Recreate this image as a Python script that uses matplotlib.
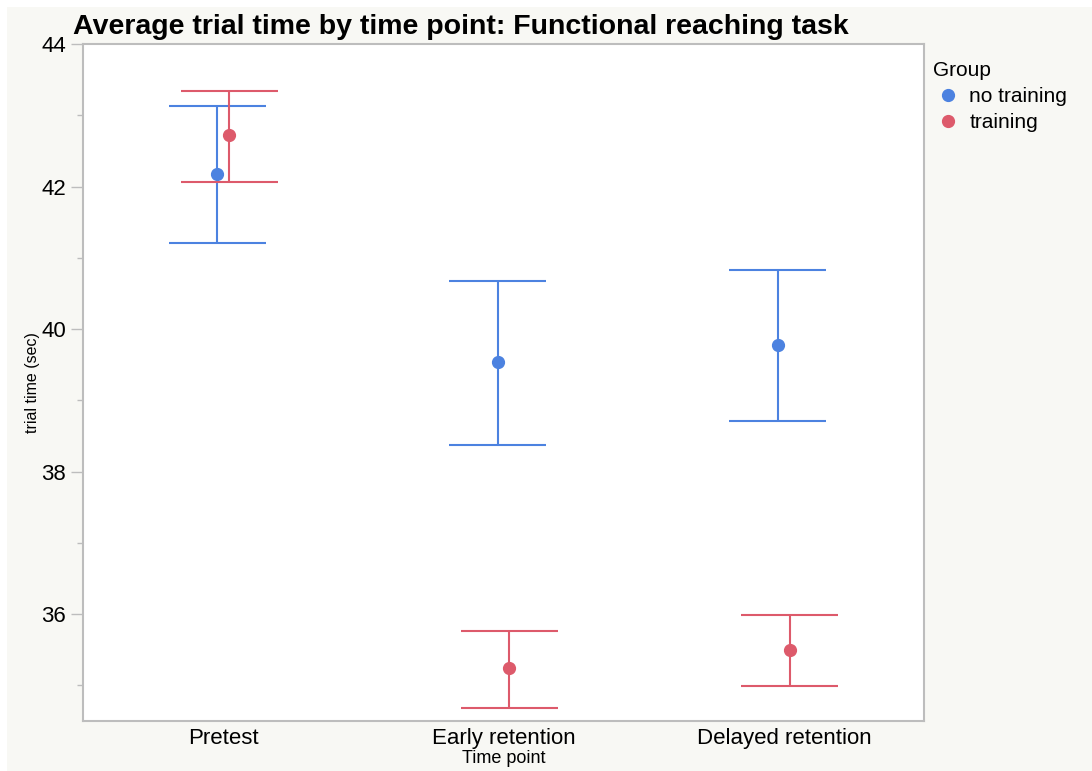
import matplotlib.pyplot as plt
from matplotlib.lines import Line2D
from matplotlib.patches import Rectangle
from matplotlib.ticker import MultipleLocator

# Data
time_points = ["Pretest", "Early retention", "Delayed retention"]
groups = ["no training", "training"]
mean_no_training = [42.18, 39.54, 39.78]
upper_no_training = [43.13, 40.67, 40.83]
lower_no_training = [41.21, 38.37, 38.71]
mean_training = [42.72, 35.24, 35.50]
upper_training = [43.34, 35.76, 35.99]
lower_training = [42.07, 34.68, 34.99]

colors = ["#4C82E0", "#DD5A6B"]
font = "Liberation Sans"
plt.rcParams["font.family"] = [font, "DejaVu Sans"]

fig = plt.figure(figsize=(10.92, 7.71), dpi=100, facecolor="white")
# off-white panel behind everything
fig.patches.append(Rectangle((7 / 1092, 0), 1, (771 - 7) / 771, transform=fig.transFigure,
                             facecolor="#F8F8F4", edgecolor="none", zorder=-10))

ax = fig.add_axes([83 / 1092, 50 / 771, 841 / 1092, 677 / 771])
ax.set_facecolor("white")

series = [
    (mean_no_training, lower_no_training, upper_no_training, -0.021),
    (mean_training, lower_training, upper_training, 0.021),
]
cap_half = 0.173
for (means, lows, highs, offset), color, name in zip(series, colors, groups):
    xs = [i + offset for i in range(len(time_points))]
    ax.vlines(xs, lows, highs, color=color, lw=1.5)
    ax.hlines(lows, [x - cap_half for x in xs], [x + cap_half for x in xs], color=color, lw=1.5)
    ax.hlines(highs, [x - cap_half for x in xs], [x + cap_half for x in xs], color=color, lw=1.5)
    ax.plot(xs, means, "o", color=color, ms=8.5, zorder=3)

ax.set_xlim(-0.5, 2.5)
ax.set_ylim(34.5, 44)
ax.set_xticks(range(len(time_points)))
ax.set_xticklabels(time_points)
ax.yaxis.set_major_locator(MultipleLocator(2))
ax.yaxis.set_minor_locator(MultipleLocator(1))

for side in ["top", "right", "bottom", "left"]:
    ax.spines[side].set_color("#BDBDBD")
    ax.spines[side].set_linewidth(1.5)

ax.tick_params(axis="x", length=0, labelsize=16, pad=5)
ax.tick_params(axis="y", which="major", length=9, width=1, color="#BDBDBD", labelsize=16, pad=3)
ax.tick_params(axis="y", which="minor", length=4, width=1, color="#BDBDBD")

ax.set_xlabel("Time point", fontsize=13, labelpad=1)
ax.set_ylabel("trial time (sec)", fontsize=11.5, labelpad=1)

fig.text(73 / 1092, (771 - 34) / 771, "Average trial time by time point: Functional reaching task",
         fontsize=20.5, fontweight="bold", va="baseline", ha="left")

handles = [Line2D([0], [0], marker="o", ls="none", color=c, ms=8.5) for c in colors]
leg = ax.legend(handles, groups, title="Group", loc="upper left",
                bbox_to_anchor=(914 / 1092, (771 - 42) / 771), bbox_transform=fig.transFigure,
                frameon=False, fontsize=15, title_fontsize=15, alignment="left",
                handletextpad=0.25, labelspacing=0.35, handlelength=1.5)

fig.savefig("out.png", dpi=100, facecolor=fig.get_facecolor())
